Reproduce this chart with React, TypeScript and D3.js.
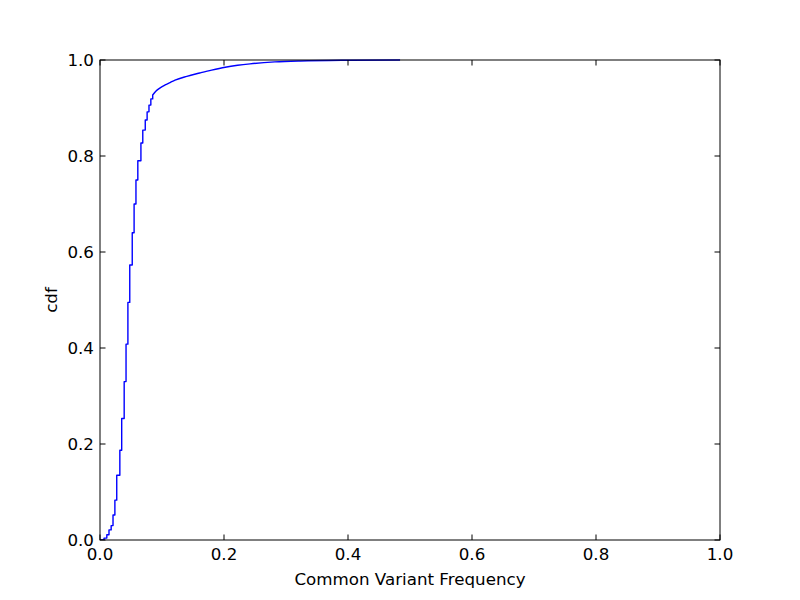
import { useEffect, useRef } from 'react';
import * as d3 from 'd3';

// steep part: frequency values where the cdf jumps
const stepFreqs = [0, 0.0065, 0.011, 0.0145, 0.018, 0.021, 0.024, 0.027, 0.032, 0.035, 0.039, 0.042,
  0.045, 0.048, 0.052, 0.055, 0.058, 0.061, 0.066, 0.069, 0.073, 0.076, 0.079, 0.082, 0.085];
const stepCdf = [0, 0.004, 0.011, 0.021, 0.03, 0.052, 0.083, 0.135, 0.187, 0.253, 0.33, 0.408,
  0.495, 0.573, 0.64, 0.7, 0.75, 0.79, 0.827, 0.854, 0.875, 0.892, 0.906, 0.919, 0.927];
// long tail, where the steps are too small to see
const tailFreqs = [0.085, 0.09, 0.097, 0.105, 0.113, 0.121, 0.14, 0.161, 0.18, 0.202, 0.222,
  0.242, 0.282, 0.323, 0.403, 0.484];
const tailCdf = [0.927, 0.935, 0.942, 0.948, 0.953, 0.958, 0.966, 0.973, 0.979, 0.985, 0.989,
  0.992, 0.996, 0.998, 0.9995, 1.0];
const xTicks = [0, 0.2, 0.4, 0.6, 0.8, 1.0];
const yTicks = [0, 0.2, 0.4, 0.6, 0.8, 1.0];

function CdfChart() {
  const svgRef = useRef<SVGSVGElement>(null);

  useEffect(() => {
    const width = 800;
    const height = 600;
    const left = 100, right = 720, top = 60, bottom = 540;

    const svg = d3.select(svgRef.current)
      .attr('width', width)
      .attr('height', height);
    svg.selectAll('*').remove();

    svg.append('rect').attr('width', width).attr('height', height).attr('fill', '#fff');

    const x = d3.scaleLinear().domain([0, 1]).range([left, right]);
    const y = d3.scaleLinear().domain([0, 1]).range([bottom, top]);

    const stepPts: [number, number][] = stepFreqs.map((f, i) => [f, stepCdf[i]]);
    const tailPts: [number, number][] = tailFreqs.map((f, i) => [f, tailCdf[i]]);

    const stepLine = d3.line<[number, number]>()
      .x(d => x(d[0]))
      .y(d => y(d[1]))
      .curve(d3.curveStepAfter);
    const tailLine = d3.line<[number, number]>()
      .x(d => x(d[0]))
      .y(d => y(d[1]))
      .curve(d3.curveMonotoneX);

    const g = svg.append('g');
    g.append('clipPath').attr('id', 'clip')
      .append('rect').attr('x', left).attr('y', top - 1).attr('width', right - left).attr('height', bottom - top + 1);

    // one path so the joint looks continuous
    g.append('path')
      .attr('d', (stepLine(stepPts) || '') + (tailLine(tailPts) || '').replace(/^M/, 'L'))
      .attr('fill', 'none')
      .attr('stroke', '#0000ff')
      .attr('stroke-width', 1.4)
      .attr('stroke-linejoin', 'round')
      .attr('clip-path', 'url(#clip)');

    const font = 'DejaVu Sans, sans-serif';
    const fs = 16.7;
    const tickLen = 5.5;

    // ticks, inward on all four sides
    xTicks.forEach(t => {
      const px = x(t);
      g.append('line').attr('x1', px).attr('x2', px).attr('y1', bottom).attr('y2', bottom - tickLen).attr('stroke', '#000');
      g.append('line').attr('x1', px).attr('x2', px).attr('y1', top).attr('y2', top + tickLen).attr('stroke', '#000');
      g.append('text').attr('x', px).attr('y', bottom + 20)
        .attr('text-anchor', 'middle').attr('font-family', font).attr('font-size', fs)
        .text(d3.format('.1f')(t));
    });
    yTicks.forEach(t => {
      const py = y(t);
      g.append('line').attr('x1', left).attr('x2', left + tickLen).attr('y1', py).attr('y2', py).attr('stroke', '#000');
      g.append('line').attr('x1', right).attr('x2', right - tickLen).attr('y1', py).attr('y2', py).attr('stroke', '#000');
      g.append('text').attr('x', left - 6).attr('y', py).attr('dy', '0.35em')
        .attr('text-anchor', 'end').attr('font-family', font).attr('font-size', fs)
        .text(d3.format('.1f')(t));
    });

    g.append('rect')
      .attr('x', left).attr('y', top).attr('width', right - left).attr('height', bottom - top)
      .attr('fill', 'none').attr('stroke', '#000').attr('stroke-width', 1);

    g.append('text').attr('x', (left + right) / 2).attr('y', 585)
      .attr('text-anchor', 'middle').attr('font-family', font).attr('font-size', fs)
      .text('Common Variant Frequency');

    g.append('text')
      .attr('transform', `translate(57,${(top + bottom) / 2}) rotate(-90)`)
      .attr('text-anchor', 'middle').attr('font-family', font).attr('font-size', fs)
      .text('cdf');
  }, []);

  return <svg ref={svgRef} style={{ position: 'absolute', left: 0, top: 0 }}></svg>;
}

export default function App() {
  return <CdfChart />;
}
